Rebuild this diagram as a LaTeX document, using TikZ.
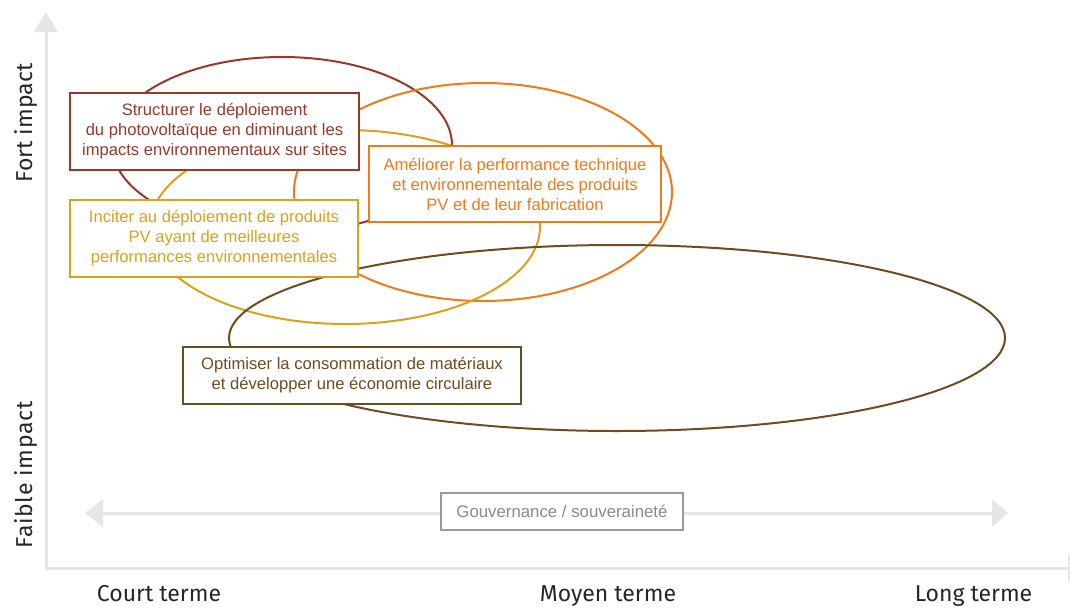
\documentclass[tikz,border=0pt]{standalone}
\usepackage{fontspec}
\setmainfont{Liberation Sans}
\newfontfamily\axisfont{Fira Sans}
\newfontfamily\axisfontsp[LetterSpace=3]{Fira Sans}
\definecolor{cred}{HTML}{97392B}
\definecolor{corange}{HTML}{EE7A1C}
\definecolor{cgold}{HTML}{D9A21B}
\definecolor{cbrown}{HTML}{6E4C22}
\definecolor{caxis}{HTML}{E6E6E6}
\definecolor{cgbox}{HTML}{9A9A9A}
\definecolor{cgtext}{HTML}{8A8A8A}
\tikzset{
  goalbox/.style={draw, fill=white, line width=2pt, align=center, inner sep=0pt,
    font=\fontsize{16.6}{20}\selectfont},
  ring/.style={line width=2pt},
  axislbl/.style={font=\axisfont\fontsize{23}{25}\selectfont, text=black!85},
}
\begin{document}
\begin{tikzpicture}[x=1pt,y=-1pt]
\useasboundingbox (0,0) rectangle (1070,608);
% axes
\draw[caxis, line width=3pt] (46,568) -- (46,30);
\fill[caxis] (34,32) -- (46,12) -- (58,32) -- cycle;
\draw[caxis, line width=3pt] (45,568) -- (1069,568);
\fill[caxis] (1068,555) -- (1090,568) -- (1068,581) -- cycle;
% ellipses
\draw[ring, cred] (282,145) ellipse [x radius=170, y radius=88];
\draw[ring, corange] (483,192) ellipse [x radius=189, y radius=109];
\draw[ring, cgold] (345,227) ellipse [x radius=195, y radius=97];
\draw[ring, cbrown] (617,338) ellipse [x radius=388, y radius=93];
% governance arrow
\coordinate (gl) at (100,513);
\coordinate (gr) at (995,513);
\draw[caxis, line width=3pt] (gl) -- (gr);
\fill[caxis] (103,499) -- (85,513) -- (103,527) -- cycle;
\fill[caxis] (992,499) -- (1008,513) -- (992,527) -- cycle;
\node[draw=cgbox, fill=white, line width=2pt, minimum width=242pt, minimum height=37pt,
  inner sep=0pt, text=cgtext, font=\fontsize{16.8}{20}\selectfont] (gov) at (562,511.5)
  {Gouvernance / souveraineté};
% boxes
\node[goalbox, draw=cred, text=cred, minimum width=289pt, minimum height=77pt] (A) at (214.5,131.5)
  {Structurer le déploiement\\du photovoltaïque en diminuant les\\impacts environnementaux sur sites};
\node[goalbox, draw=corange, text=corange, minimum width=292pt, minimum height=76pt] (B) at (515,184)
  {Améliorer la performance technique\\et environnementale des produits\\PV et de leur fabrication};
\node[goalbox, draw=cgold, text=cgold, minimum width=288pt, minimum height=77pt] (C) at (214,238.5)
  {Inciter au déploiement de produits\\PV ayant de meilleures\\performances environnementales};
\node[goalbox, draw=cbrown, text=cbrown, minimum width=338pt, minimum height=57pt] (D) at (352,375.5)
  {Optimiser la consommation de matériaux\\et développer une économie circulaire};
% axis labels
\node[axislbl, rotate=90] (fort) at (26,123) {Fort impact};
\node[axislbl, rotate=90] (faible) at (26,475) {{\axisfontsp\fontsize{23}{25}\selectfont Faible impact}};
\node[axislbl, anchor=base, inner sep=1pt] (court) at (159,601) {Court terme};
\node[axislbl, anchor=base, inner sep=1pt] (moyen) at (608,601) {Moyen terme};
\node[axislbl, anchor=base, inner sep=1pt] (long) at (973.5,601) {Long terme};
\end{tikzpicture}
\end{document}
